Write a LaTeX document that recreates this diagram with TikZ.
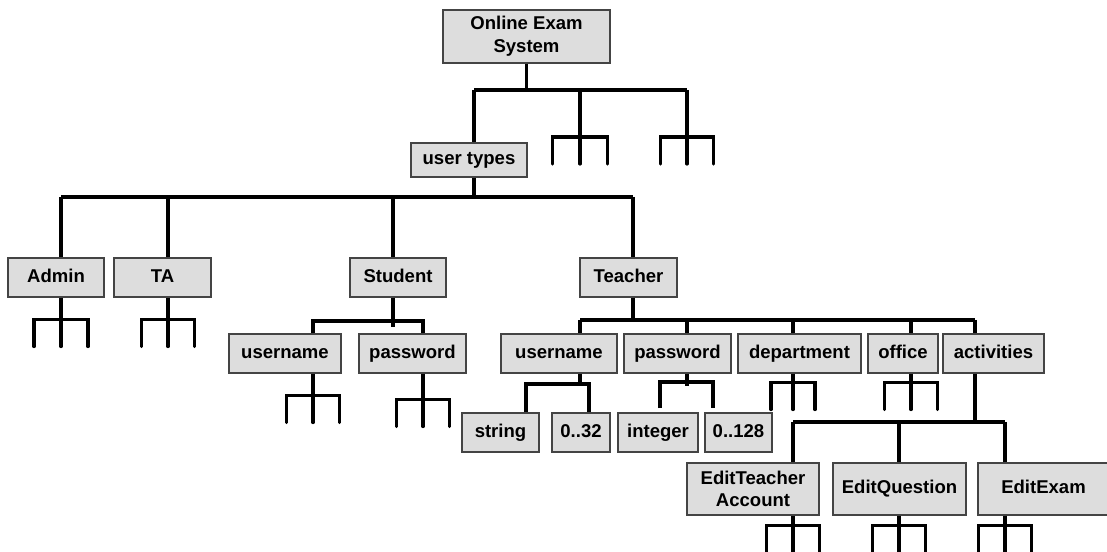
\documentclass[tikz,border=0pt]{standalone}
\usepackage{fontspec}
\setmainfont{Liberation Sans}
\definecolor{boxgray}{HTML}{DDDDDD}
\definecolor{boxline}{HTML}{444444}
\tikzset{
  box/.style={draw=boxline, line width=0.8pt, fill=boxgray, inner sep=0pt,
    align=center, font=\fontsize{13.9}{17}\selectfont\bfseries,
    text height=0.716em, text depth=0pt},
  twoline/.style={text height={}, text depth={}},
  conn/.style={line width=2.4pt},
  tine/.style={line width=2.4pt, line cap=round},
  % collapsed sub-tree: stem of length #1, bar of half width #2, three tines
  pics/fork/.style args={#1/#2}{code={
    \draw[conn] (0,0) -- (0,#1);
    \draw[tine] (0,#1) -- (0,#1+27);
    \draw[tine] (-#2,#1+27) -- (-#2,#1) -- (#2,#1) -- (#2,#1+27);
  }}
}
% box given by its name, left, top, right, bottom edges and its text
\newcommand\labelbox[7][]{%
  \node[box, #1, minimum width={(#5-#3)*0.75pt}, minimum height={(#6-#4)*0.75pt}]
    (#2) at ({(#3+#5)/2},{(#4+#6)/2}) {#7};}
\begin{document}
\begin{tikzpicture}[x=0.75pt,y=-0.75pt]
\useasboundingbox (0,0) rectangle (1107,552);

% ---- boxes ----
\labelbox[twoline]{top}{443}{10}{610}{63}{Online Exam\\System}
\labelbox{ut}{411}{143}{527}{177}{user types}
\labelbox{adm}{8}{258}{104}{297}{Admin}
\labelbox{ta}{114}{258}{211}{297}{TA}
\labelbox{stu}{350}{258}{446}{297}{Student}
\labelbox{tea}{580}{258}{677}{297}{Teacher}
\labelbox{su}{229}{334}{341}{373}{username}
\labelbox{sp}{359}{334}{466}{373}{password}
\labelbox{tu}{501}{334}{617}{373}{username}
\labelbox{tp}{624}{334}{731}{373}{password}
\labelbox{td}{738}{334}{861}{373}{department}
\labelbox{to}{868}{334}{938}{373}{office}
\labelbox{tact}{943}{334}{1044}{373}{activities}
\labelbox{str}{462}{413}{539}{452}{string}
\labelbox{n32}{552}{413}{610}{452}{0..32}
\labelbox{int}{618}{413}{698}{452}{integer}
\labelbox{n128}{705}{413}{772}{452}{0..128}
\labelbox[twoline]{et}{687}{463}{819}{515}{EditTeacher\\Account}
\labelbox{eq}{833}{463}{966}{515}{EditQuestion}
\labelbox{ee}{978}{463}{1109}{515}{EditExam}

% ---- junction points ----
\coordinate (r1) at (474,90);  \coordinate (r2) at (580,90);  \coordinate (r3) at (687,90);
\coordinate (u1) at (61,197);  \coordinate (u2) at (168,197);
\coordinate (u3) at (393,197); \coordinate (u4) at (633,197);
\coordinate (s1) at (313,321); \coordinate (s2) at (423,321);
\coordinate (v1) at (580,320); \coordinate (v2) at (687,320); \coordinate (v3) at (793,320);
\coordinate (v4) at (911,320); \coordinate (v5) at (975,320);
\coordinate (w1) at (526,384); \coordinate (w2) at (589,384);
\coordinate (x1) at (660,382); \coordinate (x2) at (713,382);
\coordinate (x1e) at (660,408); \coordinate (x2e) at (713,408);
\coordinate (y1) at (793,422); \coordinate (y2) at (899,422); \coordinate (y3) at (1005,422);

% ---- Online Exam System ----
\draw[conn] (top.south) -- (top.south |- r1);
\draw[conn] (r1) -- (r3);
\draw[conn] (r1) -- (r1 |- ut.north);
\pic at (r2) {fork=47/27.5};
\pic at (r3) {fork=47/26.5};

% ---- user types ----
\draw[conn] (ut.south -| r1) -- (r1 |- u1);
\draw[conn] (u1) -- (u4);
\draw[conn] (u1) -- (u1 |- adm.north);
\draw[conn] (u2) -- (u2 |- ta.north);
\draw[conn] (u3) -- (u3 |- stu.north);
\draw[conn] (u4) -- (u4 |- tea.north);
\pic at (adm.south -| u1) {fork=22/27};
\pic at (ta.south -| u2) {fork=22/26.5};

% ---- Student ----
\draw[conn] (stu.south -| u3) -- ++(0,29);
\draw[conn] (s1 |- su.north) |- (s2) -- (s2 |- sp.north);
\pic at (su.south -| s1) {fork=22/26.5};
\pic at (sp.south -| s2) {fork=26/26.5};

% ---- Teacher ----
\draw[conn] (tea.south -| u4) -- (u4 |- v1);
\draw[conn] (v1) -- (v5);
\draw[conn] (v1) -- (v1 |- tu.north);
\draw[conn] (v2) -- (v2 |- tp.north);
\draw[conn] (v3) -- (v3 |- td.north);
\draw[conn] (v4) -- (v4 |- to.north);
\draw[conn] (v5) -- (v5 |- tact.north);

% username: string, 0..32
\draw[conn] (tu.south -| v1) -- (v1 |- w1);
\draw[conn] (w1 |- str.north) |- (w2) -- (w2 |- n32.north);
% password: integer, 0..128
\draw[conn] (tp.south -| v2) -- ++(0,12);
\draw[conn] (x1e) |- (x2) -- (x2e);
% department, office
\pic at (td.south -| v3) {fork=9/22};
\pic at (to.south -| v4) {fork=9/26.5};

% activities
\draw[conn] (tact.south -| v5) -- (v5 |- y1);
\draw[conn] (y1) -- (y3);
\draw[conn] (y1) -- (y1 |- et.north);
\draw[conn] (y2) -- (y2 |- eq.north);
\draw[conn] (y3) -- (y3 |- ee.north);
\pic at (et.south -| y1) {fork=10/26.5};
\pic at (eq.south -| y2) {fork=10/26.5};
\pic at (ee.south -| y3) {fork=10/26.5};
\end{tikzpicture}
\end{document}
